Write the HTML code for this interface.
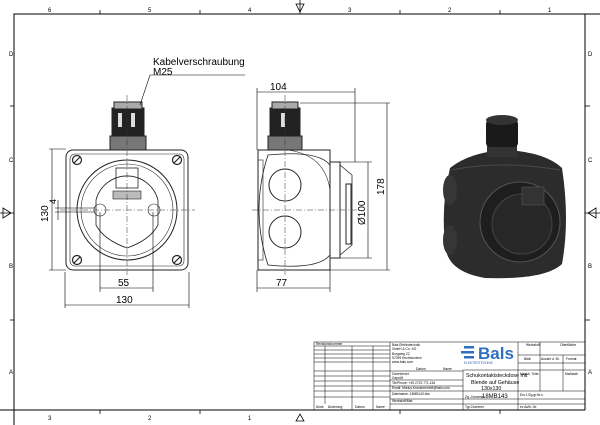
<!DOCTYPE html>
<html><head><style>body{margin:0;background:#fff}svg{display:block}text{font-family:"Liberation Sans",sans-serif}</style></head><body>
<svg width="600" height="425" viewBox="0 0 600 425" xmlns="http://www.w3.org/2000/svg">
<g stroke="#000" fill="none" stroke-width="1">
<polyline points="14,425 14,14 600,14"/><line x1="585" y1="14" x2="585" y2="410"/><line x1="0" y1="410" x2="585" y2="410"/>
<g stroke-width="0.8"><line x1="100" y1="10" x2="100" y2="14"/><line x1="200" y1="10" x2="200" y2="14"/><line x1="400" y1="10" x2="400" y2="14"/><line x1="500" y1="10" x2="500" y2="14"/>
<line x1="10" y1="106" x2="14" y2="106"/><line x1="10" y1="320" x2="14" y2="320"/>
<line x1="585" y1="106" x2="590" y2="106"/><line x1="585" y1="320" x2="590" y2="320"/>
<line x1="100" y1="410" x2="100" y2="414"/><line x1="200" y1="410" x2="200" y2="414"/><line x1="400" y1="410" x2="400" y2="414"/><line x1="500" y1="410" x2="500" y2="414"/>
<path d="M296,4 L304,4 L300,12 Z M300,0 V14"/><path d="M3,208 L3,218 L11,213 Z M0,213 H14"/><path d="M596,208 L596,218 L588,213 Z M585,213 H600"/><path d="M296,421 L304,421 L300,414 Z"/></g>
</g>
<g font-size="6" fill="#000">
<text x="48" y="12">6</text><text x="148" y="12">5</text><text x="248" y="12">4</text><text x="348" y="12">3</text><text x="448" y="12">2</text><text x="548" y="12">1</text>
<text x="48" y="420">3</text><text x="148" y="420">2</text><text x="248" y="420">1</text>
<text x="9" y="56">D</text><text x="9" y="162">C</text><text x="9" y="268">B</text><text x="9" y="374">A</text>
<text x="588" y="56">D</text><text x="588" y="162">C</text><text x="588" y="268">B</text><text x="588" y="374">A</text>
</g>
<!-- left view -->
<g stroke="#222" fill="none" stroke-width="1">
<rect x="66" y="150" width="122" height="120" rx="7"/>
<rect x="70" y="154" width="114" height="112" rx="5" stroke-width="0.6"/>
<circle cx="127" cy="210" r="50"/><circle cx="127" cy="210" r="46" stroke-width="0.6"/>
<path d="M96,200 A32,32 0 0 1 158,200 L158,225 Q150,240 127,248 Q104,240 96,225 Z" stroke-width="0.8"/>
<rect x="116" y="168" width="22" height="20" stroke-width="0.8"/><rect x="113" y="191" width="28" height="8" fill="#bbb" stroke-width="0.6"/>
<circle cx="100" cy="210" r="6" stroke-width="0.6"/><circle cx="154" cy="210" r="6" stroke-width="0.6"/>
<g stroke-width="1.2"><circle cx="77" cy="160" r="4.5"/><circle cx="177" cy="160" r="4.5"/><circle cx="77" cy="260" r="4.5"/><circle cx="177" cy="260" r="4.5"/>
<path d="M74,163 L80,157 M174,163 L180,157 M74,263 L80,257 M174,263 L180,257"/></g>
<rect x="110" y="136" width="36" height="14" fill="#777"/>
<rect x="112" y="108" width="32" height="28" fill="#222"/><rect x="114" y="102" width="28" height="7" fill="#aaa"/>
<rect x="118" y="113" width="4" height="14" fill="#ddd" stroke="none"/><rect x="131" y="113" width="4" height="14" fill="#ddd" stroke="none"/>
</g>
<g stroke="#333" stroke-width="0.5" stroke-dasharray="6,2,1,2" fill="none"><line x1="127" y1="95" x2="127" y2="275"/><line x1="60" y1="210" x2="195" y2="210"/></g>
<g stroke="#000" stroke-width="0.6" fill="none">
<line x1="49" y1="149" x2="66" y2="149"/><line x1="49" y1="270" x2="66" y2="270"/><line x1="52" y1="149" x2="52" y2="270"/>
<line x1="65" y1="272" x2="65" y2="308"/><line x1="189" y1="272" x2="189" y2="308"/><line x1="65" y1="305" x2="189" y2="305"/>
<line x1="100" y1="212" x2="100" y2="292"/><line x1="153" y1="212" x2="153" y2="292"/><line x1="100" y1="288" x2="153" y2="288"/>
<line x1="58" y1="200" x2="58" y2="220"/><line x1="55" y1="208" x2="95" y2="208"/><line x1="55" y1="212" x2="95" y2="212"/>
<polyline points="140,105 150,75 245,75"/>
</g>
<g font-size="10" fill="#000">
<text x="153" y="65">Kabelverschraubung</text><text x="153" y="75">M25</text>
<text x="118" y="286">55</text><text x="116" y="303">130</text>
<text transform="translate(48,222) rotate(-90)">130</text><text transform="translate(56,204) rotate(-90)" font-size="9">4</text>
<text x="270" y="90">104</text><text x="276" y="286">77</text>
<text transform="translate(384,195) rotate(-90)">178</text><text transform="translate(365,225) rotate(-90)">Ø100</text>
</g>
<!-- middle view -->
<g stroke="#222" fill="none" stroke-width="1">
<rect x="258" y="150" width="72" height="120"/>
<path d="M268,155 Q318,150 330,165 L330,255 Q318,270 268,265 Q250,210 268,155 Z" stroke-width="0.8"/>
<path d="M288,150 Q325,155 330,190" stroke-width="0.6"/>
<circle cx="285" cy="185" r="16"/><circle cx="285" cy="232" r="16"/>
<rect x="330" y="162" width="10" height="96"/><path d="M340,165 L352,175 L352,245 L340,255" stroke-width="0.8"/>
<rect x="346" y="184" width="5" height="60"/>
<rect x="258" y="160" width="5" height="100" stroke-width="0.6"/>
<rect x="268" y="136" width="34" height="14" fill="#777"/>
<rect x="270" y="108" width="30" height="28" fill="#222"/><rect x="272" y="102" width="26" height="7" fill="#aaa"/>
<rect x="281" y="113" width="4" height="14" fill="#ddd" stroke="none"/>
</g>
<g stroke="#333" stroke-width="0.5" stroke-dasharray="6,2,1,2" fill="none"><line x1="285" y1="95" x2="285" y2="275"/><line x1="252" y1="210" x2="360" y2="210"/></g>
<g stroke="#000" stroke-width="0.6" fill="none">
<line x1="257" y1="88" x2="257" y2="150"/><line x1="355" y1="88" x2="355" y2="162"/><line x1="257" y1="92" x2="355" y2="92"/>
<line x1="300" y1="103" x2="390" y2="103"/><line x1="330" y1="270" x2="390" y2="270"/><line x1="387" y1="103" x2="387" y2="270"/>
<line x1="340" y1="162" x2="372" y2="162"/><line x1="340" y1="258" x2="372" y2="258"/><line x1="368" y1="162" x2="368" y2="258"/>
<line x1="257" y1="270" x2="257" y2="292"/><line x1="330" y1="270" x2="330" y2="292"/><line x1="257" y1="288" x2="330" y2="288"/>
</g>
<!-- 3D product -->
<g>
<path d="M450,168 Q470,152 505,150 Q545,152 562,168 Q570,220 562,264 Q545,280 485,278 Q450,272 446,250 Q440,210 450,168 Z" fill="#2c2c2c"/>
<path d="M452,170 Q500,160 560,170" stroke="#4a4a4a" fill="none"/>
<circle cx="520" cy="222" r="40" fill="#1e1e1e" stroke="#555"/>
<circle cx="522" cy="224" r="30" fill="#272727" stroke="#444"/>
<rect x="522" y="187" width="22" height="18" fill="#333" stroke="#555" stroke-width="0.6"/>
<ellipse cx="450" cy="190" rx="7" ry="15" fill="#363636"/><ellipse cx="450" cy="240" rx="7" ry="15" fill="#363636"/>
<rect x="487" y="145" width="30" height="12" fill="#333"/>
<rect x="486" y="120" width="32" height="27" rx="4" fill="#1a1a1a"/>
<ellipse cx="502" cy="120" rx="16" ry="5" fill="#333"/>
</g>
<!-- title block -->
<g stroke="#000" stroke-width="0.5" fill="none">
<rect x="314" y="342" width="271" height="68"/>
<line x1="325" y1="346" x2="325" y2="404"/><line x1="352" y1="346" x2="352" y2="410"/><line x1="373" y1="346" x2="373" y2="410"/><line x1="390" y1="342" x2="390" y2="410"/>
<line x1="314" y1="346" x2="390" y2="346"/>
<line x1="314" y1="350" x2="390" y2="350"/><line x1="314" y1="354" x2="390" y2="354"/><line x1="314" y1="358" x2="390" y2="358"/><line x1="314" y1="362" x2="390" y2="362"/><line x1="314" y1="371" x2="390" y2="371"/><line x1="314" y1="376" x2="390" y2="376"/><line x1="314" y1="381" x2="390" y2="381"/><line x1="314" y1="386" x2="390" y2="386"/><line x1="314" y1="391" x2="390" y2="391"/><line x1="314" y1="397" x2="390" y2="397"/>
<line x1="390" y1="371" x2="463" y2="371"/><line x1="390" y1="380" x2="463" y2="380"/><line x1="390" y1="386" x2="463" y2="386"/><line x1="390" y1="391" x2="463" y2="391"/><line x1="390" y1="399" x2="585" y2="399"/><line x1="390" y1="404" x2="585" y2="404"/>
<line x1="463" y1="370" x2="463" y2="410"/><line x1="463" y1="370" x2="518" y2="370"/><line x1="463" y1="391" x2="585" y2="391"/>
<line x1="518" y1="342" x2="518" y2="410"/><line x1="540" y1="342" x2="540" y2="391"/><line x1="563" y1="355" x2="563" y2="391"/>
<line x1="518" y1="355" x2="585" y2="355"/><line x1="518" y1="363" x2="585" y2="363"/><line x1="518" y1="370" x2="585" y2="370"/>
</g>
<g fill="#000" font-size="3.3">
<text x="316" y="345">Revisionsnummer</text><text x="392" y="346">Bals Elektrotechnik</text><text x="392" y="350">GmbH &amp; Co. KG</text><text x="392" y="355">Burgweg 22</text><text x="392" y="359">57399 Kirchhundem</text><text x="392" y="363">www.bals.com</text>
<text x="392" y="375">Gezeichnet</text><text x="392" y="379">Geprüft</text><text x="392" y="384">Tel/Phone: +49 2723 771-164</text><text x="392" y="389">Email: Marius.Krankeneheld@bals.com</text><text x="392" y="395">Dateiname: 18MB143.idw</text><text x="392" y="402">Werkstoff/Mat.</text>
<text x="416" y="370">Datum</text><text x="443" y="370">Name</text>
<text x="316" y="408">Ände</text><text x="328" y="408">Änderung</text><text x="355" y="408">Datum</text><text x="376" y="408">Name</text>
<text x="465" y="408">Typ-Nummer</text><text x="520" y="396">Ers.f./Zg.gr.Nr.v.</text><text x="520" y="408">ex Auftr.-Nr.</text>
<text x="526" y="346">Werkstoff</text><text x="560" y="346">Oberfläche</text><text x="524" y="360">Blatt</text><text x="541" y="360">Anzahl d. Bl.</text><text x="566" y="360">Format</text><text x="520" y="375">Masch. Toler.</text><text x="565" y="375">Maßstab</text>
<text x="464" y="364" font-size="3.2" fill="#3060b0">ELEKTROTECHNIK</text>
</g>
<text x="478" y="359" font-size="17" font-weight="bold" fill="#2f6fc0">Bals</text>
<g fill="#2f6fc0"><rect x="464" y="346" width="10" height="2.5"/><rect x="461" y="351" width="13" height="2.5"/><rect x="464" y="356" width="10" height="2.5"/></g>
<g fill="#000">
<text x="466" y="377" font-size="5.3">Schukontaktsteckdose mit</text><text x="471" y="384" font-size="5.3">Blende auf Gehäuse</text><text x="481" y="390" font-size="5.3">130x130</text>
<text x="465" y="398" font-size="3.5">Zg.-Nummer</text><text x="482" y="398" font-size="6">18MB143</text>
</g>
</svg>
</body></html>
